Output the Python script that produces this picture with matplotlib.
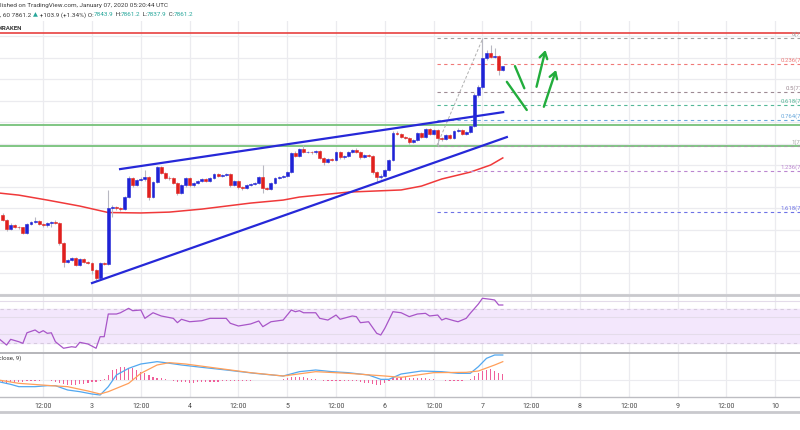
import numpy as np
import matplotlib.pyplot as plt
from matplotlib.lines import Line2D

plt.rcParams['font.family'] = ['Roboto', 'DejaVu Sans']

# ---- DATA ----
# hourly candles, hours counted from Jan 2 2020 00:00 UTC
hours = list(range(2, 126))
first_open = 7167
closes = [7144, 7102, 7121, 7112, 7110, 7084, 7126, 7135, 7140, 7126,
          7119, 7130, 7133, 7128, 7037, 6949, 6958, 6967, 6935, 6963,
          6949, 6944, 6912, 6874, 6944, 6940, 7200, 7205, 7200, 7195,
          7251, 7340, 7307, 7330, 7335, 7344, 7251, 7321, 7391, 7363,
          7340, 7338, 7316, 7270, 7307, 7340, 7307, 7316, 7326, 7335,
          7326, 7340, 7358, 7349, 7353, 7358, 7307, 7326, 7298, 7293,
          7307, 7312, 7316, 7344, 7293, 7288, 7316, 7340, 7344, 7349,
          7367, 7456, 7442, 7474, 7460, 7461, 7459, 7465, 7433, 7414,
          7428, 7423, 7460, 7437, 7442, 7460, 7470, 7460, 7437, 7446,
          7442, 7367, 7344, 7349, 7377, 7423, 7549, 7544, 7530, 7526,
          7507, 7516, 7549, 7530, 7567, 7544, 7563, 7526, 7521, 7539,
          7526, 7558, 7563, 7544, 7553, 7581, 7726, 7763, 7898, 7921,
          7902, 7907, 7843.9, 7861.2]
highs = [7175, 7150, 7128, 7127, 7118, 7114, 7130, 7140, 7160, 7144,
         7131, 7135, 7138, 7142, 7133, 7042, 6962, 6972, 6972, 6968,
         6968, 6954, 6950, 6918, 6948, 6950, 7284, 7212, 7210, 7205,
         7258, 7350, 7346, 7336, 7345, 7377, 7350, 7326, 7396, 7396,
         7368, 7348, 7342, 7320, 7312, 7346, 7345, 7322, 7332, 7340,
         7340, 7346, 7364, 7362, 7358, 7364, 7362, 7330, 7330, 7303,
         7312, 7318, 7322, 7350, 7400, 7300, 7320, 7345, 7350, 7355,
         7372, 7462, 7465, 7480, 7492, 7467, 7466, 7470, 7470, 7438,
         7433, 7434, 7465, 7466, 7448, 7466, 7476, 7480, 7466, 7452,
         7452, 7448, 7372, 7356, 7382, 7428, 7556, 7556, 7550, 7536,
         7530, 7522, 7555, 7555, 7572, 7572, 7568, 7568, 7532, 7544,
         7544, 7564, 7570, 7568, 7558, 7586, 7735, 7770, 7990, 7935,
         7958, 7945, 7912, 7861.2]
lows = [7138, 7095, 7096, 7106, 7104, 7078, 7080, 7120, 7131, 7121,
        7114, 7112, 7110, 7124, 7030, 6925, 6944, 6952, 6928, 6930,
        6944, 6938, 6895, 6865, 6868, 6934, 6936, 7160, 7192, 7188,
        7190, 7245, 7300, 7302, 7325, 7328, 7235, 7246, 7316, 7356,
        7334, 7330, 7310, 7262, 7265, 7300, 7300, 7300, 7310, 7320,
        7320, 7320, 7335, 7344, 7344, 7348, 7300, 7302, 7290, 7286,
        7288, 7302, 7306, 7310, 7270, 7282, 7284, 7310, 7335, 7338,
        7344, 7362, 7436, 7437, 7454, 7454, 7452, 7452, 7426, 7400,
        7408, 7418, 7418, 7430, 7430, 7437, 7454, 7455, 7430, 7432,
        7436, 7360, 7321, 7336, 7344, 7372, 7418, 7538, 7524, 7520,
        7500, 7502, 7512, 7524, 7526, 7538, 7538, 7490, 7514, 7516,
        7520, 7521, 7552, 7538, 7538, 7548, 7576, 7718, 7755, 7890,
        7896, 7896, 7819, 7837.9]

ma_hours = [1, 6, 13, 21, 28, 36, 43, 51, 63, 71, 75, 87, 100, 105, 110, 117, 122, 125]
ma_values = [7270, 7260, 7237, 7209, 7179, 7177, 7181, 7195, 7223, 7237,
             7251, 7274, 7284, 7302, 7335, 7367, 7400, 7433]

rsi_hours = [1, 3, 4, 6, 7, 8, 10, 11, 12, 13, 14, 15, 17, 19, 20, 21, 23, 25, 26, 27,
             28, 30, 31, 33, 34, 36, 37, 39, 41, 44, 45, 46, 48, 51, 53, 57, 58, 60, 63, 65,
             66, 68, 71, 73, 74, 75, 76, 79, 80, 82, 84, 85, 88, 89, 90, 92, 94, 95, 96, 98,
             100, 102, 104, 106, 107, 109, 110, 111, 113, 114, 116, 117, 119, 120, 122, 123, 124, 125]
rsi_values = [35.5, 27.6, 34.3, 31.5, 29.6, 42, 45.3, 42, 44.5, 41.4, 42, 31.5, 23.8, 25.6, 24.9, 30.8, 28.8, 23.8, 37.4, 37.4,
              64.1, 64.1, 65.6, 70.8, 68, 68.8, 59, 65.6, 61.8, 59, 53.9, 57.9, 55, 56.2, 59, 59, 53.2, 50, 52.4, 55.9,
              49.2, 55, 57, 68.8, 66.8, 68, 65.6, 65.6, 59, 57, 62.9, 57.9, 61.8, 61, 53.9, 55, 41.4, 39.4, 47.3, 66.8,
              65.6, 61, 64.1, 64.9, 61.8, 62.9, 57, 59, 56.2, 55, 59, 64.9, 75.9, 82.6, 81.4, 80.6, 74.7, 74.7]

macd_hours = [1, 4, 6, 10, 13, 15, 18, 21, 24, 26, 28, 30, 33, 36, 40, 42, 46, 51, 57, 64,
              71, 75, 79, 83, 87, 92, 95, 97, 100, 105, 110, 114, 117, 119, 121, 123, 125]
macd_values = [-5, -13, -20, -20, -17, -17, -30, -35, -42, -45, -20, 15, 35, 48, 55, 52, 45, 38, 30, 20,
               12, 25, 30, 25, 22, 15, 2, 2, 18, 27, 25, 20, 20, 40, 65, 75, 75]
signal_hours = [1, 6, 14, 18, 23, 26, 28, 33, 36, 40, 43, 47, 55, 63, 71, 79, 87, 96, 100, 108, 116, 119, 123, 125]
signal_values = [0, -10, -17, -20, -33, -42, -35, -10, 20, 45, 52, 48, 35, 22, 12, 25, 20, 12, 8, 22, 23, 27, 45, 55]
hist_values = [-8, -8, -7, -6, -5, -5, -4, -3, -2, -2,
               -1, -1, -3, -6, -9, -12, -15, -16, -15, -13,
               -11, -9, -7, -6, -3, 2, 15, 30, 33, 38,
               38, 37, 35, 30, 25, 20, 15, 10, 7, 5,
               2, -1, -3, -5, -6, -7, -8, -8, -7, -7,
               -6, -6, -5, -5, -4, -4, -3, -3, -3, -2,
               -2, -2, -1, -1, -1, -1, -1, 0, 1, 3,
               6, 10, 10, 9, 8, 6, 4, 2, -1, -3,
               -4, -4, -3, -4, -4, -3, -3, -4, -6, -8,
               -10, -13, -15, -14, -10, -3, 5, 7, 8, 8,
               7, 6, 6, 5, 5, 4, 3, 1, -1, -2,
               -2, -2, -2, -2, -1, 2, 12, 20, 27, 30,
               32, 27, 20, 18]

fib_low, fib_high = 7490, 7990
fib_ratios = [0, 0.236, 0.5, 0.618, 0.764, 1, 1.236, 1.618]
fib_names = ['0', '0.236', '0.5', '0.618', '0.764', '1', '1.236', '1.618']

tick_hours = list(range(12, 193, 12))
tick_labels = ['12:00', '3', '12:00', '4', '12:00', '5', '12:00', '6',
               '12:00', '7', '12:00', '8', '12:00', '9', '12:00', '10']

# ---- STYLE ----
UP = '#1f23d6'
DOWN = '#e0201e'
WICK = '#b8b8c2'
GRID = '#ebebef'
TEAL = '#26a69a'
DARK = '#3a3a3a'
ARROW = '#22ad3c'
fib_colors = ['#a0a0a0', '#f07a78', '#9d8a93', '#55b898', '#6aa9dc', '#a0a0a0', '#bb86d0', '#6d72e6']
fib_label_x = [196.0, 193.2, 194.6, 193.2, 193.4, 196.0, 193.3, 193.3]

W, H = 800, 430
X0, X1 = 5.6 / 4.067, 805.6 / 4.067


def fy(py):
    return 1 - py / H


fig = plt.figure(figsize=(8, 4.3), dpi=100)
fig.patch.set_facecolor('white')

ax = fig.add_axes([0, fy(294), 1, (294 - 21) / H])
ax_r = fig.add_axes([0, fy(352), 1, (352 - 296) / H], sharex=ax)
ax_m = fig.add_axes([0, fy(397), 1, (397 - 353) / H], sharex=ax)

for a in (ax, ax_r, ax_m):
    for s in a.spines.values():
        s.set_visible(False)
    a.set_xlim(X0, X1)
    a.set_yticks([])
    a.tick_params(length=0)
    for t in tick_hours:
        a.axvline(t, color=GRID, lw=0.9, zorder=0)

# ---- main price pane ----
ax.set_ylim(6800, 8070)
for p in range(6800, 8100, 100):
    ax.axhline(p, color=GRID, lw=0.9, zorder=0)

h = np.array(hours, float)
c = np.array(closes, float)
o = np.array([first_open] + closes[:-1], float)
rise = c >= o
ax.vlines(h, lows, highs, color=WICK, lw=0.8, zorder=3)
for mask, col in ((rise, UP), (~rise, DOWN)):
    ax.bar(h[mask], np.abs(c - o)[mask], bottom=np.minimum(o, c)[mask], width=0.72,
           color=col, edgecolor=col, linewidth=0.4, zorder=4)

ax.plot(ma_hours, ma_values, color='#f0393a', lw=1.1, zorder=2)

# horizontal levels
ax.axhline(8014, color='#e8413f', lw=1.2, zorder=2)
ax.axhline(7586, color='#76c27a', lw=1.3, zorder=2)
ax.axhline(7490, color='#76c27a', lw=1.3, zorder=2)

# fibonacci retracement
fib_start = 108.8
ax.plot([fib_start, 120.1], [fib_low, fib_high], color='#b0b0b0', lw=0.7, ls=(0, (3, 2)), zorder=2)
for r, name, col, lx in zip(fib_ratios, fib_names, fib_colors, fib_label_x):
    lvl = fib_high - r * (fib_high - fib_low)
    ax.plot([fib_start, X1], [lvl, lvl], color=col, lw=0.8, ls=(0, (3, 3)), zorder=2)
    ax.text(lx, lvl + 4, f'{name}({lvl:.1f})', color=col, fontsize=4.3,
            va='bottom', ha='left', clip_on=False)

# trend lines
ax.plot([30.9, 125.1], [7381, 7646], color='#2628d8', lw=1.6, zorder=5)
ax.plot([24.0, 126.0], [6851, 7530], color='#2628d8', lw=1.6, zorder=5)

# projected move
ax.plot([126.0, 130.9], [7787, 7656], color=ARROW, lw=1.7, solid_capstyle='round', zorder=6)
ax.plot([128.0, 130.3], [7860, 7757], color=ARROW, lw=1.7, solid_capstyle='round', zorder=6)
for tail, tip in (((133.3, 7764), (135.5, 7935)), ((135.1, 7671), (138.1, 7842))):
    ax.annotate('', xy=tip, xytext=tail, zorder=6,
                arrowprops=dict(arrowstyle='->,head_length=0.45,head_width=0.28',
                                color=ARROW, lw=1.7, shrinkA=0, shrinkB=0))

# ---- RSI pane ----
ax_r.set_ylim(19.4, 85.3)
ax_r.axhspan(30, 70, color='#f3e7fc', zorder=0)
for lv in (40, 60, 80):
    ax_r.axhline(lv, color='#e4dcea', lw=0.8, zorder=1)
for lv in (30, 70):
    ax_r.axhline(lv, color='#d6cade', lw=0.8, ls=(0, (3, 3)), zorder=1)
ax_r.plot(rsi_hours, rsi_values, color='#a855c8', lw=0.9, zorder=3)

# ---- MACD pane ----
ax_m.set_ylim(-51, 81)
ax_m.axhline(0, color=GRID, lw=0.8, zorder=0)
ax_m.bar(hours, hist_values, width=0.3, color='#f0609a', zorder=2)
ax_m.plot(macd_hours, macd_values, color='#52a8f0', lw=0.9, zorder=3)
ax_m.plot(signal_hours, signal_values, color='#ff9f5a', lw=0.9, zorder=3)
ax_m.set_xticks(tick_hours)
ax_m.set_xticklabels(tick_labels)
ax_m.tick_params(axis='x', labelsize=5, labelcolor='#4a4a4a', pad=4)
plt.setp(ax.get_xticklabels(), visible=False)
plt.setp(ax_r.get_xticklabels(), visible=False)

# ---- pane separators ----
for py, col, lw in ((295, '#c9c9cd', 2.0), (352.5, '#a9a9ae', 1.2),
                    (397, '#bdbdc2', 1.0), (411.5, '#c9c9cd', 2.0)):
    fig.add_artist(Line2D([0, 1], [fy(py), fy(py)], transform=fig.transFigure, color=col, lw=lw))

# ---- header texts ----
ov = fig.add_axes([0, 0, 1, 1], facecolor='none')
ov.axis('off')
ov.set_xlim(0, W)
ov.set_ylim(H, 0)
ov.text(0.5, 6, 'lished on TradingView.com, January 07, 2020 05:20:44 UTC',
        fontsize=4.6, color=DARK, va='center', ha='left')
pieces = [(', 60 7861.2 ', DARK), ('▲', TEAL), (' +103.9 (+1.34%) O:', DARK), ('7843.9', TEAL),
          (' H:', DARK), ('7861.2', TEAL), (' L:', DARK), ('7837.9', TEAL), (' C:', DARK), ('7861.2', TEAL)]
t = ov.text(0.5, 15, pieces[0][0], fontsize=4.6, color=pieces[0][1], va='center', ha='left')
for s, col in pieces[1:]:
    t = ov.annotate(s, xy=(1, 0), xycoords=t, va='bottom', ha='left', fontsize=4.6, color=col)
ov.text(-1.5, 29, 'KRAKEN', fontsize=4.4, color=DARK, fontweight='bold', va='center', ha='left')
ov.text(21, 358, 'MACD (12, 26, close, 9)', fontsize=4.4, color=DARK, va='center', ha='right')

fig.savefig('out.png', dpi=100)
